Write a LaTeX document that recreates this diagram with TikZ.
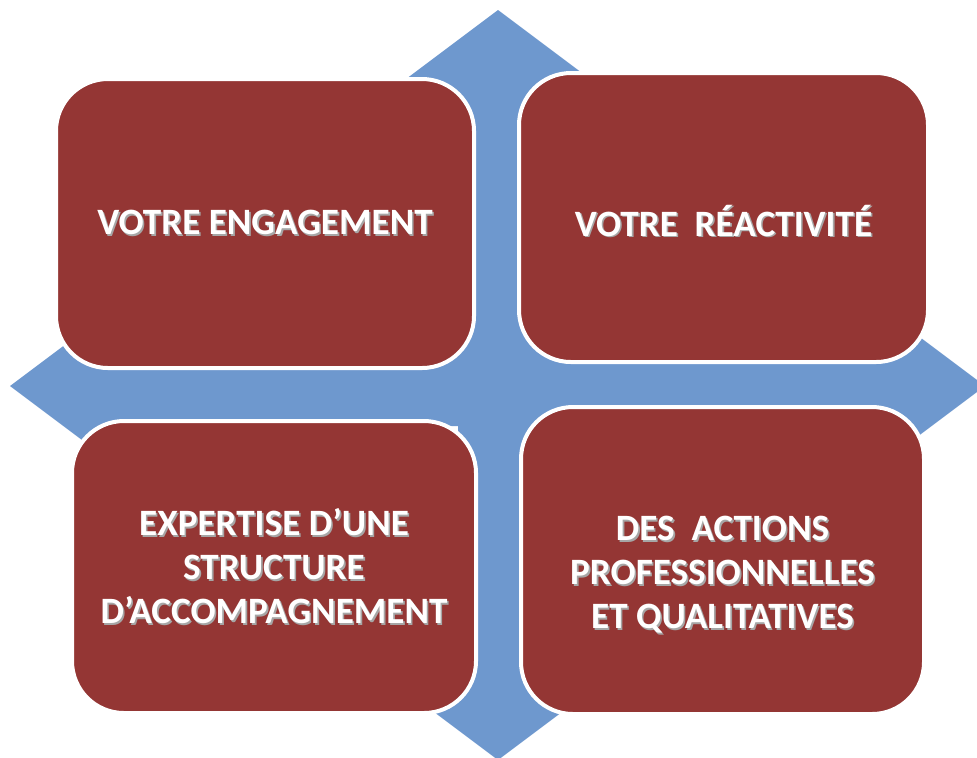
\documentclass[tikz,border=0pt]{standalone}
\usepackage{fontspec}
\setmainfont{Carlito}
\definecolor{boxred}{RGB}{148,54,52}
\definecolor{arrowblue}{RGB}{110,152,206}
\tikzstyle{block}=[rectangle,rounded corners=26pt,fill=boxred,draw=white,line width=2pt,inner sep=0pt]
\tikzstyle{blocktext}=[inner sep=0pt,text=white,align=center,font=\bfseries\fontsize{18.6}{22}\selectfont]
\tikzstyle{quadarrow}=[fill=arrowblue]
\newcommand{\shad}[1]{\leavevmode\rlap{\kern0.8pt\raisebox{-0.8pt}{\textcolor{black!35}{#1}}}#1}

\begin{document}
\begin{tikzpicture}[x=0.5pt,y=-0.5pt]
    \useasboundingbox (0,0) rectangle (977,757);
    \clip (0,0) rectangle (977,757);
    % First we draw the quad arrow
    \path[quadarrow] (498,10) -- (618,100) -- (538,100) -- (538,346) -- (865,346) -- (865,296)
        -- (985,386) -- (865,476) -- (865,426) -- (538,426) -- (538,670) -- (618,670)
        -- (498,760) -- (378,670) -- (458,670) -- (458,426) -- (130,426) -- (130,476)
        -- (10,386) -- (130,296) -- (130,346) -- (458,346) -- (458,100) -- (378,100) -- cycle;

    % Then the four blocks on top of it, with their texts
    \foreach \pos/\w/\h/\name/\dy/\txt in {{(265,223.5)/209/144.5/engagement/0/{\shad{VOTRE ENGAGEMENT}}},
        {(723.5,217.5)/204.5/144.5/reactivite/-2/{\shad{VOTRE~ RÉACTIVITÉ}}},
        {(274,567)/202/146/expertise/0/{\shad{EXPERTISE D’UNE}\\\shad{STRUCTURE}\\\shad{D’ACCOMPAGNEMENT}}},
        {(722.5,560.5)/201.5/153.5/actions/-7.5/{\shad{DES~ ACTIONS}\\\shad{PROFESSIONNELLES}\\\shad{ET QUALITATIVES}}}}
    {
        \node[block,minimum width=\w pt,minimum height=\h pt] (\name) at \pos {};
        \node[blocktext] (\name-text) at ([yshift=\dy pt]\name.center) {\txt};
    }
\end{tikzpicture}
\end{document}
